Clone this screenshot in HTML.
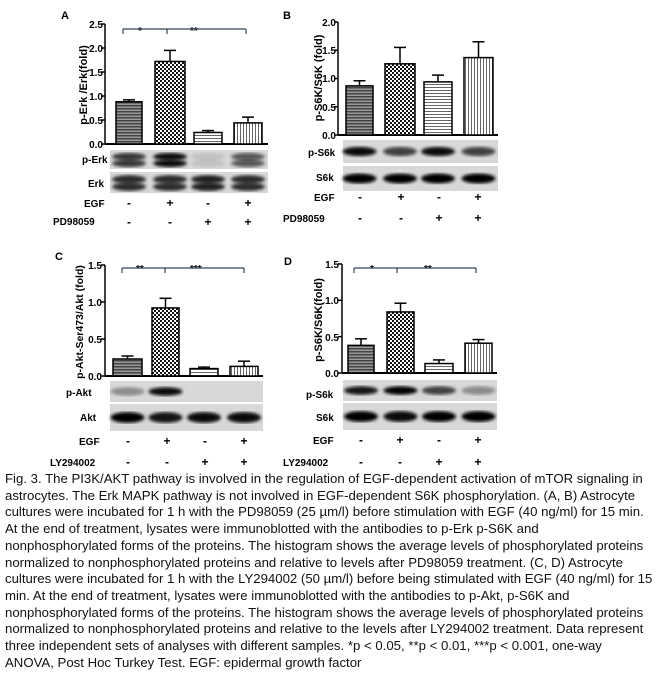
<!DOCTYPE html>
<html><head><meta charset="utf-8"><style>
body{margin:0;background:#fff;width:659px;height:683px;overflow:hidden;position:relative;font-family:"Liberation Sans",Arial,sans-serif}
svg{position:absolute;left:0;top:0}
.cap{position:absolute;left:5px;font-size:13.2px;white-space:nowrap;color:#111;line-height:15px}
</style></head><body>
<svg id="s" width="659" height="683" font-family="Liberation Sans, Arial, sans-serif" font-weight="bold">
<defs>
<pattern id="p1" width="4" height="3" patternUnits="userSpaceOnUse"><rect width="4" height="3" fill="#999"/><rect width="4" height="1.5" fill="#444"/></pattern>
<pattern id="p2" width="4" height="4" patternUnits="userSpaceOnUse"><rect width="4" height="4" fill="#fff"/><rect width="2" height="2" fill="#111"/><rect x="2" y="2" width="2" height="2" fill="#111"/></pattern>
<pattern id="p3" width="4" height="3" patternUnits="userSpaceOnUse"><rect width="4" height="3" fill="#fff"/><rect width="4" height="1" fill="#666"/></pattern>
<pattern id="p4" width="3" height="4" patternUnits="userSpaceOnUse"><rect width="3" height="4" fill="#fff"/><rect width="1" height="4" fill="#666"/></pattern>
<filter id="bl"><feGaussianBlur stdDeviation="1.5"/></filter>
</defs>
<g font-size="11">
<text x="61" y="19">A</text><text x="283" y="19">B</text><text x="55" y="260">C</text><text x="284" y="265">D</text>
<!-- A -->
<text transform="translate(87,85) rotate(-90)" text-anchor="middle" font-size="11">p-Erk /Erk(fold)</text>
<g text-anchor="end" font-size="10"><text x="103" y="28">2.5</text><text x="103" y="52">2.0</text><text x="103" y="76">1.5</text><text x="103" y="100">1.0</text><text x="103" y="124">0.5</text><text x="103" y="148">0.0</text></g>
<text x="82" y="163" font-size="10">p-Erk</text><text x="88" y="187" font-size="10">Erk</text>
<text x="84" y="207" font-size="10">EGF</text><text x="53" y="225" font-size="10">PD98059</text>
<text x="138" y="34" font-size="10">*</text><text x="190" y="34" font-size="10">**</text>
<g font-size="12" text-anchor="middle"><text x="129" y="207">-</text><text x="170" y="207">+</text><text x="208" y="207">-</text><text x="248" y="207">+</text>
<text x="129" y="226">-</text><text x="170" y="226">-</text><text x="208" y="226">+</text><text x="248" y="226">+</text></g>
<!-- B -->
<text transform="translate(322,78) rotate(-90)" text-anchor="middle">p-S6K/S6K (fold)</text>
<g text-anchor="end" font-size="10"><text x="336" y="26">2.0</text><text x="336" y="54">1.5</text><text x="336" y="82">1.0</text><text x="336" y="111">0.5</text><text x="336" y="139">0.0</text></g>
<text x="308" y="156" font-size="10">p-S6k</text><text x="316" y="181" font-size="10">S6k</text>
<text x="314" y="201" font-size="10">EGF</text><text x="283" y="222" font-size="10">PD98059</text>
<g font-size="12" text-anchor="middle"><text x="360" y="201">-</text><text x="401" y="201">+</text><text x="439" y="201">-</text><text x="478" y="201">+</text>
<text x="360" y="222">-</text><text x="401" y="222">-</text><text x="439" y="222">+</text><text x="478" y="222">+</text></g>
<!-- C -->
<text transform="translate(83,322) rotate(-90)" text-anchor="middle" font-size="10.5">p-Akt-Ser473/Akt (fold)</text>
<g text-anchor="end" font-size="10"><text x="102" y="269">1.5</text><text x="102" y="306">1.0</text><text x="102" y="343">0.5</text><text x="102" y="380">0.0</text></g>
<text x="66" y="396" font-size="10">p-Akt</text><text x="80" y="421" font-size="10">Akt</text>
<text x="79" y="445" font-size="10">EGF</text><text x="50" y="466" font-size="10">LY294002</text>
<text x="136" y="272" font-size="10">**</text><text x="190" y="272" font-size="10">***</text>
<g font-size="12" text-anchor="middle"><text x="128" y="445">-</text><text x="167" y="445">+</text><text x="205" y="445">-</text><text x="244" y="445">+</text>
<text x="128" y="466">-</text><text x="167" y="466">-</text><text x="205" y="466">+</text><text x="244" y="466">+</text></g>
<!-- D -->
<text transform="translate(322,320) rotate(-90)" text-anchor="middle">p-S6K/S6K(fold)</text>
<g text-anchor="end" font-size="10"><text x="339" y="268">1.5</text><text x="339" y="304">1.0</text><text x="339" y="341">0.5</text><text x="339" y="377">0.0</text></g>
<text x="306" y="398" font-size="10">p-S6k</text><text x="316" y="421" font-size="10">S6k</text>
<text x="313" y="444" font-size="10">EGF</text><text x="283" y="466" font-size="10">LY294002</text>
<text x="370" y="272" font-size="10">*</text><text x="424" y="272" font-size="10">**</text>
<g font-size="12" text-anchor="middle"><text x="361" y="444">-</text><text x="400" y="444">+</text><text x="439" y="444">-</text><text x="478" y="444">+</text>
<text x="361" y="466">-</text><text x="400" y="466">-</text><text x="439" y="466">+</text><text x="478" y="466">+</text></g>
</g>
<g id="dyn"></g>
</svg>
<div class="cap" style="top:471px">Fig. 3. The PI3K/AKT pathway is involved in the regulation of EGF-dependent activation of mTOR signaling in</div>
<div class="cap" style="top:487.7px">astrocytes. The Erk MAPK pathway is not involved in EGF-dependent S6K phosphorylation. (A, B) Astrocyte</div>
<div class="cap" style="top:504.4px">cultures were incubated for 1 h with the PD98059 (25 µm/l) before stimulation with EGF (40 ng/ml) for 15 min.</div>
<div class="cap" style="top:521.1px">At the end of treatment, lysates were immunoblotted with the antibodies to p-Erk  p-S6K and</div>
<div class="cap" style="top:537.8px">nonphosphorylated forms of the proteins. The histogram shows the average levels of phosphorylated proteins</div>
<div class="cap" style="top:554.5px">normalized to nonphosphorylated proteins and relative to levels after PD98059 treatment. (C, D) Astrocyte</div>
<div class="cap" style="top:571.2px">cultures were incubated for 1 h with the LY294002 (50 µm/l) before being stimulated with EGF (40 ng/ml) for 15</div>
<div class="cap" style="top:587.9px">min. At the end of treatment, lysates were immunoblotted with the antibodies to p-Akt, p-S6K and</div>
<div class="cap" style="top:604.6px">nonphosphorylated forms of the proteins. The histogram shows the average levels of phosphorylated proteins</div>
<div class="cap" style="top:621.3px">normalized to nonphosphorylated proteins and relative to the levels after LY294002 treatment. Data represent</div>
<div class="cap" style="top:638px">three independent sets of analyses with different samples. *p &lt; 0.05, **p &lt; 0.01, ***p &lt; 0.001, one-way</div>
<div class="cap" style="top:654.7px">ANOVA, Post Hoc Turkey Test. EGF: epidermal growth factor</div>
<script>
var g=document.getElementById('dyn'),h='';
function L(x1,y1,x2,y2,w,c){h+='<line x1="'+x1+'" y1="'+y1+'" x2="'+x2+'" y2="'+y2+'" stroke="'+(c||'#000')+'" stroke-width="'+(w||1.5)+'"/>';}
function panel(o){
 var s=o.ppu;
 L(o.ax,o.top,o.ax,o.base,1.5);L(o.ax,o.base,o.end,o.base,2);
 o.ticks.forEach(function(t){var y=o.base-t*s;L(o.ax-4,y,o.ax,y,1.5);});
 o.bars.forEach(function(b,i){var y=o.base-b[2]*s,ye=o.base-b[3]*s,cx=(b[0]+b[1])/2;
  L(cx,y,cx,ye,1.5);L(cx-6,ye,cx+6,ye,1.5);
  h+='<rect x="'+b[0]+'" y="'+y+'" width="'+(b[1]-b[0])+'" height="'+(o.base-y)+'" fill="url(#p'+(i+1)+')" stroke="#000" stroke-width="1.5"/>';});
 if(o.br){var b=o.br;L(b[0],b[3],b[2],b[3],1.2,'#345');L(b[0],b[3],b[0],b[3]+5,1.2,'#345');L(b[1],b[3],b[1],b[3]+5,1.2,'#345');L(b[2],b[3],b[2],b[3]+5,1.2,'#345');}
 o.blots.forEach(function(bl){h+='<rect x="'+o.bx+'" y="'+bl.y+'" width="'+(o.end-o.bx)+'" height="'+bl.h+'" fill="#d8d8d8"/>';
  o.bars.forEach(function(b,i){var cx=(b[0]+b[1])/2,inten=bl.v[i];if(inten<=0)return;
   bl.rows.forEach(function(r){h+='<ellipse cx="'+cx+'" cy="'+(bl.y+r*bl.h)+'" rx="17" ry="'+(bl.h*0.2)+'" fill="#000" opacity="'+inten+'" filter="url(#bl)"/>';});});});
}
panel({ax:105,top:24,base:144,end:268,ppu:48,ticks:[0,.5,1,1.5,2,2.5],
 bars:[[116,142,.88,.92],[155,185,1.72,1.95],[194,222,.24,.28],[234,262,.44,.56]],br:[123,167,246,29],bx:110,
 blots:[{y:150,h:19,rows:[.35,.7],v:[.75,.95,.1,.6]},{y:172,h:21,rows:[.35,.7],v:[.8,.8,.85,.8]}]});
panel({ax:338,top:22,base:135,end:498,ppu:56.5,ticks:[0,.5,1,1.5,2],
 bars:[[346,373,.87,.96],[385,415,1.26,1.55],[424,452,.94,1.06],[464,493,1.37,1.65]],bx:343,
 blots:[{y:140,h:23,rows:[.5],v:[.95,.7,.95,.7]},{y:166,h:25,rows:[.5],v:[1,1,1,1]}]});
panel({ax:105,top:265,base:376,end:263,ppu:74,ticks:[0,.5,1,1.5],
 bars:[[113,142,.23,.27],[152,179,.92,1.05],[190,218,.1,.12],[230,258,.13,.2]],br:[122,165,244,268],bx:110,
 blots:[{y:381,h:21,rows:[.5],v:[.35,.95,0,0]},{y:404,h:27,rows:[.5],v:[1,.9,.95,.95]}]});
panel({ax:342,top:264,base:373,end:497,ppu:72.7,ticks:[0,.5,1,1.5],
 bars:[[348,374,.38,.47],[387,414,.84,.96],[425,453,.13,.18],[465,492,.41,.46]],br:[354,397,476,268],bx:343,
 blots:[{y:380,h:21,rows:[.5],v:[.9,1,.7,.35]},{y:403,h:27,rows:[.5],v:[1,.95,1,1]}]});
g.innerHTML=h;
</script>
</body></html>
